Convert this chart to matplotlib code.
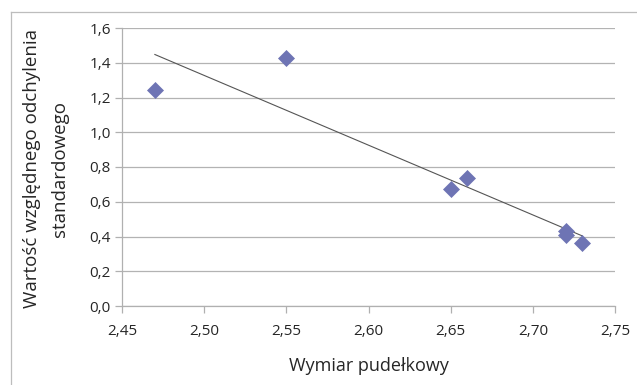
import numpy as np
import matplotlib
matplotlib.use("Agg")
import matplotlib.pyplot as plt
from matplotlib.lines import Line2D
from matplotlib.ticker import FixedLocator, FuncFormatter

# Data
wymiar = [2.47, 2.55, 2.65, 2.66, 2.72, 2.72, 2.73]
odchylenie = [1.246, 1.425, 0.671, 0.734, 0.430, 0.407, 0.362]
x_ticks = [2.45, 2.50, 2.55, 2.60, 2.65, 2.70, 2.75]
y_ticks = [0.0, 0.2, 0.4, 0.6, 0.8, 1.0, 1.2, 1.4, 1.6]
x_label = "Wymiar pudełkowy"
y_label = "Wartość względnego odchylenia\nstandardowego"

plt.rcParams['font.family'] = ['Open Sans', 'DejaVu Sans']

W, H = 637, 385
fig = plt.figure(figsize=(W / 100, H / 100), dpi=100)
ax = fig.add_axes([122 / W, 1 - 306 / H, (615 - 122) / W, (306 - 28) / H])

grid_c = '#B3B3B3'
axis_c = '#B0B0B0'
text_c = '#262626'

ax.set_xlim(2.45, 2.75)
ax.set_ylim(0.0, 1.6)
ax.xaxis.set_major_locator(FixedLocator(x_ticks))
ax.yaxis.set_major_locator(FixedLocator(y_ticks))
ax.xaxis.set_major_formatter(FuncFormatter(lambda v, p: f"{v:.2f}".replace('.', ',')))
ax.yaxis.set_major_formatter(FuncFormatter(lambda v, p: f"{v:.1f}".replace('.', ',')))

ax.grid(axis='y', color=grid_c, linewidth=0.9)
ax.set_axisbelow(True)
for s in ['top', 'right']:
    ax.spines[s].set_visible(False)
for s in ['left', 'bottom']:
    ax.spines[s].set_color(axis_c)
    ax.spines[s].set_linewidth(0.9)
ax.tick_params(axis='both', direction='out', length=5, width=0.9, color=axis_c,
               labelsize=11, labelcolor=text_c, pad=3)
ax.tick_params(axis='x', pad=8)

# trend line (least squares)
coef = np.polyfit(wymiar, odchylenie, 1)
xs = np.array([min(wymiar), max(wymiar)])
ax.plot(xs, np.polyval(coef, xs), color='#555555', linewidth=0.8, zorder=2)

ax.plot(wymiar, odchylenie, linestyle='none', marker='D', markersize=8.6,
        markerfacecolor='#6E74B4', markeredgecolor='#6E74B4', markeredgewidth=0.5,
        zorder=3, clip_on=False)

fig.text((122 + 615) / 2 / W, 1 - 366 / H, x_label, ha='center', va='center',
         fontsize=13, color=text_c)
fig.text(46 / W, 1 - 169 / H, y_label, ha='center', va='center', rotation=90,
         fontsize=13.5, color=text_c, multialignment='center', linespacing=1.7)

# chart border (left and top edges visible)
fig.add_artist(Line2D([10.5 / W, 1.0], [1 - 11.5 / H, 1 - 11.5 / H],
                      transform=fig.transFigure, color='#BDBDBD', linewidth=0.9))
fig.add_artist(Line2D([10.5 / W, 10.5 / W], [0.0, 1 - 11.5 / H],
                      transform=fig.transFigure, color='#BDBDBD', linewidth=0.9))

fig.savefig('out.png', dpi=100, facecolor='white')
